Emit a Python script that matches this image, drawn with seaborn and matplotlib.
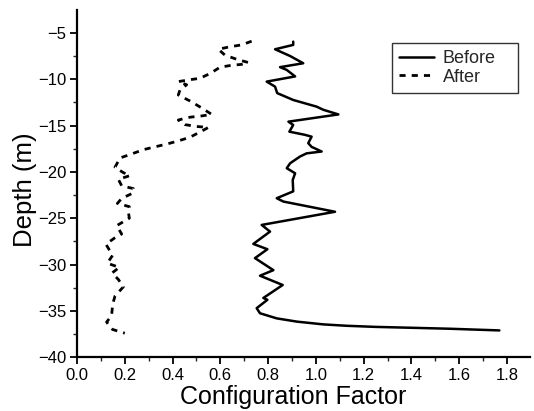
import matplotlib
matplotlib.use("Agg")
import matplotlib.pyplot as plt
import seaborn as sns
import pandas as pd
from matplotlib.ticker import MultipleLocator

before_x = [0.905, 0.905, 0.829, 0.892, 0.947, 0.850, 0.878, 0.913, 0.794, 0.829,
            0.838, 0.905, 1.003, 1.031, 1.094, 0.885, 0.905, 0.889, 0.954, 0.982,
            0.968, 0.982, 1.024, 0.961, 0.933, 0.892, 0.878, 0.913, 0.903, 0.905,
            0.836, 0.864, 1.080, 0.773, 0.808, 0.738, 0.797, 0.745, 0.822, 0.766,
            0.861, 0.780, 0.797, 0.752, 0.766, 0.836, 0.920, 1.031, 1.129, 1.250,
            1.408, 1.561, 1.768]
before_y = [-5.95, -6.3, -6.77, -7.5, -8.28, -8.7, -9.0, -9.7, -10.26, -10.8,
            -11.5, -12.24, -12.96, -13.3, -13.8, -14.58, -14.94, -15.66, -16.0, -16.2,
            -16.9, -17.3, -17.8, -18.0, -18.35, -19.07, -19.6, -20.15, -20.87, -22.1,
            -22.84, -23.2, -24.3, -25.72, -26.44, -27.77, -28.34, -29.3, -30.6, -31.2,
            -32.2, -33.6, -33.8, -34.7, -35.25, -35.8, -36.15, -36.45, -36.6, -36.72,
            -36.82, -36.92, -37.1]

after_x = [0.731, 0.689, 0.640, 0.592, 0.619, 0.668, 0.717, 0.689, 0.647, 0.599,
           0.559, 0.515, 0.466, 0.424, 0.459, 0.431, 0.424, 0.473, 0.522, 0.564,
           0.522, 0.473, 0.424, 0.452, 0.501, 0.550, 0.522, 0.473, 0.424, 0.375,
           0.326, 0.278, 0.229, 0.180, 0.159, 0.194, 0.222, 0.173, 0.187, 0.236,
           0.233, 0.187, 0.169, 0.219, 0.215, 0.219, 0.166, 0.187, 0.159, 0.121,
           0.149, 0.127, 0.177, 0.147, 0.173, 0.194, 0.159, 0.149, 0.145, 0.124,
           0.149, 0.200]
after_y = [-5.9, -6.3, -6.5, -6.77, -7.4, -7.85, -8.2, -8.4, -8.5, -8.7,
           -9.36, -9.9, -10.08, -10.26, -10.6, -11.16, -11.7, -12.35, -13.1, -13.8,
           -13.96, -14.1, -14.4, -14.9, -15.1, -15.2, -15.6, -16.26, -16.66, -17.0,
           -17.3, -17.6, -18.06, -18.5, -19.5, -20.08, -20.4, -20.8, -21.5, -21.8,
           -22.3, -22.86, -23.4, -23.75, -24.3, -25.0, -25.8, -26.7, -27.1, -27.8,
           -29.0, -29.85, -30.3, -30.9, -31.6, -32.4, -33.4, -34.3, -35.5, -36.2,
           -37.0, -37.4]

x_ticks = [0.0, 0.2, 0.4, 0.6, 0.8, 1.0, 1.2, 1.4, 1.6, 1.8]
y_ticks = [-40, -35, -30, -25, -20, -15, -10, -5]
x_label = "Configuration Factor"
y_label = "Depth (m)"

sns.set_theme(style="ticks")
plt.rcParams['font.family'] = ['Liberation Sans', 'DejaVu Sans']

fig = plt.figure(figsize=(5.34, 4.11), dpi=100)
# axes: x from px 77 to 530, y from px 10 to 357.3
ax = fig.add_axes([77 / 534, 1 - 357.3 / 411, 453 / 534, 347.3 / 411])

sns.lineplot(x=before_x, y=before_y, sort=False, estimator=None, ax=ax,
             color="black", lw=1.8, label="Before")
sns.lineplot(x=after_x, y=after_y, sort=False, estimator=None, ax=ax,
             color="black", lw=2.0, linestyle=(0, (2.2, 2.2)), label="After")

ax.set_xlim(0, 453 / 238.9)
ax.set_ylim(-40, -40 + 347.3 / 9.27)
ax.xaxis.set_minor_locator(MultipleLocator(0.1))
ax.yaxis.set_minor_locator(MultipleLocator(2.5))
ax.set_xticks(x_ticks)
ax.set_xticklabels([f"{v:.1f}" for v in x_ticks])
ax.set_yticks(y_ticks)
ax.set_yticklabels([f"\u2212{abs(v)}" for v in y_ticks])

ax.tick_params(which="major", direction="out", length=5, width=1.3, labelsize=12,
               colors="black", pad=2.5)
ax.tick_params(which="minor", direction="out", length=3, width=1.0)
for s in ["top", "right"]:
    ax.spines[s].set_visible(False)
for s in ["left", "bottom"]:
    ax.spines[s].set_linewidth(1.6)
    ax.spines[s].set_color("black")

ax.set_xlabel(x_label, fontsize=18, color="black", labelpad=1.5)
ax.set_ylabel(y_label, fontsize=18.5, color="black", labelpad=1)
ax.xaxis.label.set_x(0.477)
ax.yaxis.label.set_y(0.482)

leg = ax.legend(loc="upper left", bbox_to_anchor=(0.695, 0.904, 0.278, 0.0),
                mode="expand", frameon=True, fancybox=False, edgecolor="black",
                fontsize=13, handlelength=1.95, handletextpad=0.5, borderpad=0.38,
                labelspacing=0.08, borderaxespad=0)
leg.get_frame().set_linewidth(1.0)

fig.savefig("out.png", dpi=100)
